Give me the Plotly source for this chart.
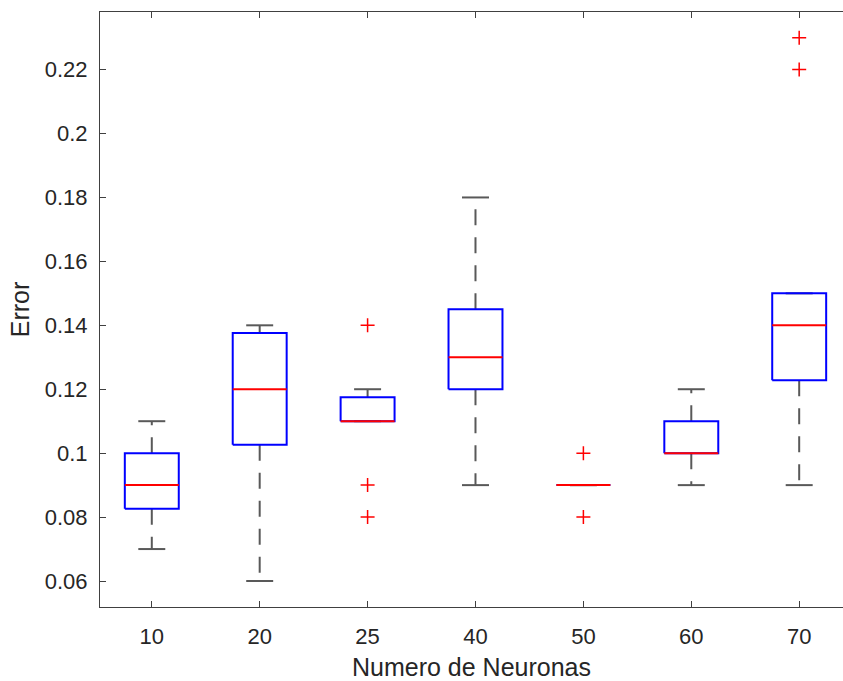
import plotly.graph_objects as go

# ---- data ----
categories = ["10", "20", "25", "40", "50", "60", "70"]
q1 = [0.0826, 0.1026, 0.11, 0.12, 0.09, 0.10, 0.1228]
medians = [0.09, 0.12, 0.11, 0.13, 0.09, 0.10, 0.14]
q3 = [0.10, 0.1376, 0.1175, 0.145, 0.09, 0.11, 0.15]
whisker_low = [0.07, 0.06, 0.11, 0.09, 0.09, 0.09, 0.09]
whisker_high = [0.11, 0.14, 0.12, 0.18, 0.09, 0.12, 0.15]
outliers = [[], [], [0.14, 0.09, 0.08], [], [0.10, 0.08], [], [0.22, 0.23]]

ytick_vals = [0.06, 0.08, 0.10, 0.12, 0.14, 0.16, 0.18, 0.20, 0.22]
ytick_text = ["0.06", "0.08", "0.1", "0.12", "0.14", "0.16", "0.18", "0.2", "0.22"]

box_half = 0.25
cap_half = 0.125

pos = list(range(1, len(categories) + 1))

wx, wy, cx, cy, bx, by, mx, my, ox, oy = [], [], [], [], [], [], [], [], [], []
for p, a, m, b, lo, hi, outs in zip(pos, q1, medians, q3, whisker_low, whisker_high, outliers):
    wx += [p, p, None, p, p, None]
    wy += [b, hi, None, a, lo, None]
    cx += [p - cap_half, p + cap_half, None, p - cap_half, p + cap_half, None]
    cy += [hi, hi, None, lo, lo, None]
    bx += [p - box_half, p + box_half, p + box_half, p - box_half, p - box_half, None]
    by += [a, a, b, b, a, None]
    mx += [p - box_half, p + box_half, None]
    my += [m, m, None]
    for o in outs:
        ox.append(p)
        oy.append(o)

grey = "#595959"
fig = go.Figure()
fig.add_trace(go.Scatter(x=wx, y=wy, mode="lines", line=dict(color=grey, width=2, dash="16px,12px"),
                         hoverinfo="skip", showlegend=False))
fig.add_trace(go.Scatter(x=cx, y=cy, mode="lines", line=dict(color=grey, width=2),
                         hoverinfo="skip", showlegend=False))
fig.add_trace(go.Scatter(x=bx, y=by, mode="lines", line=dict(color="#0000FF", width=2),
                         hoverinfo="skip", showlegend=False))
fig.add_trace(go.Scatter(x=mx, y=my, mode="lines", line=dict(color="#FF0000", width=2),
                         hoverinfo="skip", showlegend=False))
fig.add_trace(go.Scatter(x=ox, y=oy, mode="markers",
                         marker=dict(symbol="cross-thin", size=10, line=dict(color="#FF0000", width=1.5)),
                         hoverinfo="skip", showlegend=False))

axis_col = "#404040"
font_col = "#262626"
fig.update_layout(
    width=843, height=681,
    margin=dict(l=100, r=0, t=12, b=74),
    plot_bgcolor="white", paper_bgcolor="white",
    font=dict(family="Liberation Sans, Arial, sans-serif", size=22, color=font_col),
    xaxis=dict(
        range=[0.52, 0.52 + 743 / 107.9],
        tickvals=pos, ticktext=categories,
        showline=True, linecolor=axis_col, linewidth=1, mirror="ticks",
        ticks="inside", ticklen=6, tickcolor=axis_col,
        showgrid=False, zeroline=False,
        ticklabelstandoff=10,
        title=dict(text="Numero de Neuronas", font=dict(size=25), standoff=12),
        tickfont=dict(size=22),
    ),
    yaxis=dict(
        range=[0.05187, 0.23802],
        tickvals=ytick_vals, ticktext=ytick_text,
        showline=True, linecolor=axis_col, linewidth=1,
        ticks="inside", ticklen=6, tickcolor=axis_col,
        showgrid=False, zeroline=False,
        ticklabelstandoff=7,
        title=dict(text="Error", font=dict(size=25), standoff=8),
        tickfont=dict(size=22),
    ),
)

fig.write_html("out.html")
